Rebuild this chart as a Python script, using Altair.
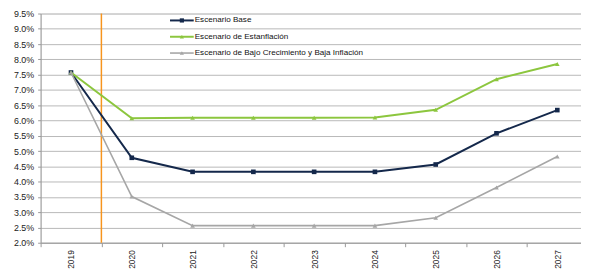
import altair as alt
import pandas as pd

years = [2019, 2020, 2021, 2022, 2023, 2024, 2025, 2026, 2027]
series_names = ["Escenario Base", "Escenario de Estanflación",
                "Escenario de Bajo Crecimiento y Baja Inflación"]
base = [7.57, 4.78, 4.32, 4.32, 4.32, 4.32, 4.56, 5.58, 6.34]
estanflacion = [7.57, 6.07, 6.09, 6.09, 6.09, 6.10, 6.35, 7.35, 7.85]
bajo = [7.57, 3.51, 2.56, 2.56, 2.56, 2.56, 2.82, 3.81, 4.82]
divider = [2019.5]
y_ticks = [2.0, 2.5, 3.0, 3.5, 4.0, 4.5, 5.0, 5.5, 6.0, 6.5, 7.0, 7.5, 8.0, 8.5, 9.0, 9.5]
x_bounds = [2018.5, 2019.5, 2020.5, 2021.5, 2022.5, 2023.5, 2024.5, 2025.5, 2026.5]

colors = ["#14284b", "#8cc63e", "#a6a6a6"]
shapes = ["square", "triangle-up", "triangle-up"]
widths = [2, 2, 1.6]

FONT = "Liberation Sans"

rows = []
for name, vals in zip(series_names, [base, estanflacion, bajo]):
    for yr, v in zip(years, vals):
        rows.append({"year": yr, "value": v, "serie": name})
df = pd.DataFrame(rows)

x_scale = alt.Scale(domain=[2018.5, 2027.39], nice=False, zero=False)
y_scale = alt.Scale(domain=[2.0, 9.5], nice=False, zero=False)

x_axis = alt.Axis(
    values=years + x_bounds,
    labelExpr="(datum.value % 1 == 0) ? toString(datum.value) : ''",
    labelAngle=-90, labelAlign="right", labelBaseline="middle",
    labelFontSize=8.5, labelFont=FONT, labelColor="#222222",
    labelOverlap=False, labelFlush=False, labelPadding=3,
    tickSize=4, tickColor="#999999",
    tickOpacity={"condition": {"test": "datum.value % 1 != 0", "value": 1}, "value": 0},
    grid=False, domainColor="#999999", title=None,
)
y_axis = alt.Axis(
    values=y_ticks,
    labelExpr="format(datum.value, '.1f') + '%'",
    labelFontSize=9, labelFont=FONT, labelColor="#222222",
    labelPadding=4, tickSize=3, tickColor="#999999",
    grid=True, gridColor="#b8b8b8", gridWidth=1,
    domainColor="#999999", title=None,
)

layers = []
# vertical orange divider
layers.append(
    alt.Chart(pd.DataFrame({"x": divider})).mark_rule(color="#f7941d", strokeWidth=1.5)
    .encode(x=alt.X("x:Q", scale=x_scale, axis=x_axis))
)
for i, name in enumerate(series_names):
    sub = df[df.serie == name]
    layers.append(
        alt.Chart(sub).mark_line(color=colors[i], strokeWidth=widths[i])
        .encode(x=alt.X("year:Q", scale=x_scale, axis=x_axis),
                y=alt.Y("value:Q", scale=y_scale, axis=y_axis))
    )
    layers.append(
        alt.Chart(sub).mark_point(color=colors[i], fill=colors[i], filled=True,
                                  shape=shapes[i], size=22, opacity=1)
        .encode(x=alt.X("year:Q", scale=x_scale, axis=x_axis),
                y=alt.Y("value:Q", scale=y_scale, axis=y_axis))
    )

# legend (drawn manually)
for i, name in enumerate(series_names):
    ly = 7 + 16.5 * i
    leg = pd.DataFrame({"serie": [name]})
    layers.append(
        alt.Chart(leg).mark_rule(color=colors[i], strokeWidth=widths[i])
        .encode(x=alt.value(131), x2=alt.value(155), y=alt.value(ly))
    )
    layers.append(
        alt.Chart(leg).mark_point(color=colors[i], fill=colors[i], filled=True,
                                  shape=shapes[i], size=18, opacity=1)
        .encode(x=alt.value(143), y=alt.value(ly))
    )
    layers.append(
        alt.Chart(leg).mark_text(align="left", baseline="middle", fontSize=8.2,
                                 font=FONT, color="#111111")
        .encode(x=alt.value(156), y=alt.value(ly), text="serie:N")
    )

chart = alt.layer(*layers).properties(
    width=547, height=232,
    padding={"left": 5, "top": 0, "right": 0, "bottom": 0},
).configure_view(stroke=None).configure(background="white")

chart.save("out.html", embed_options={"renderer": "svg", "actions": False})
